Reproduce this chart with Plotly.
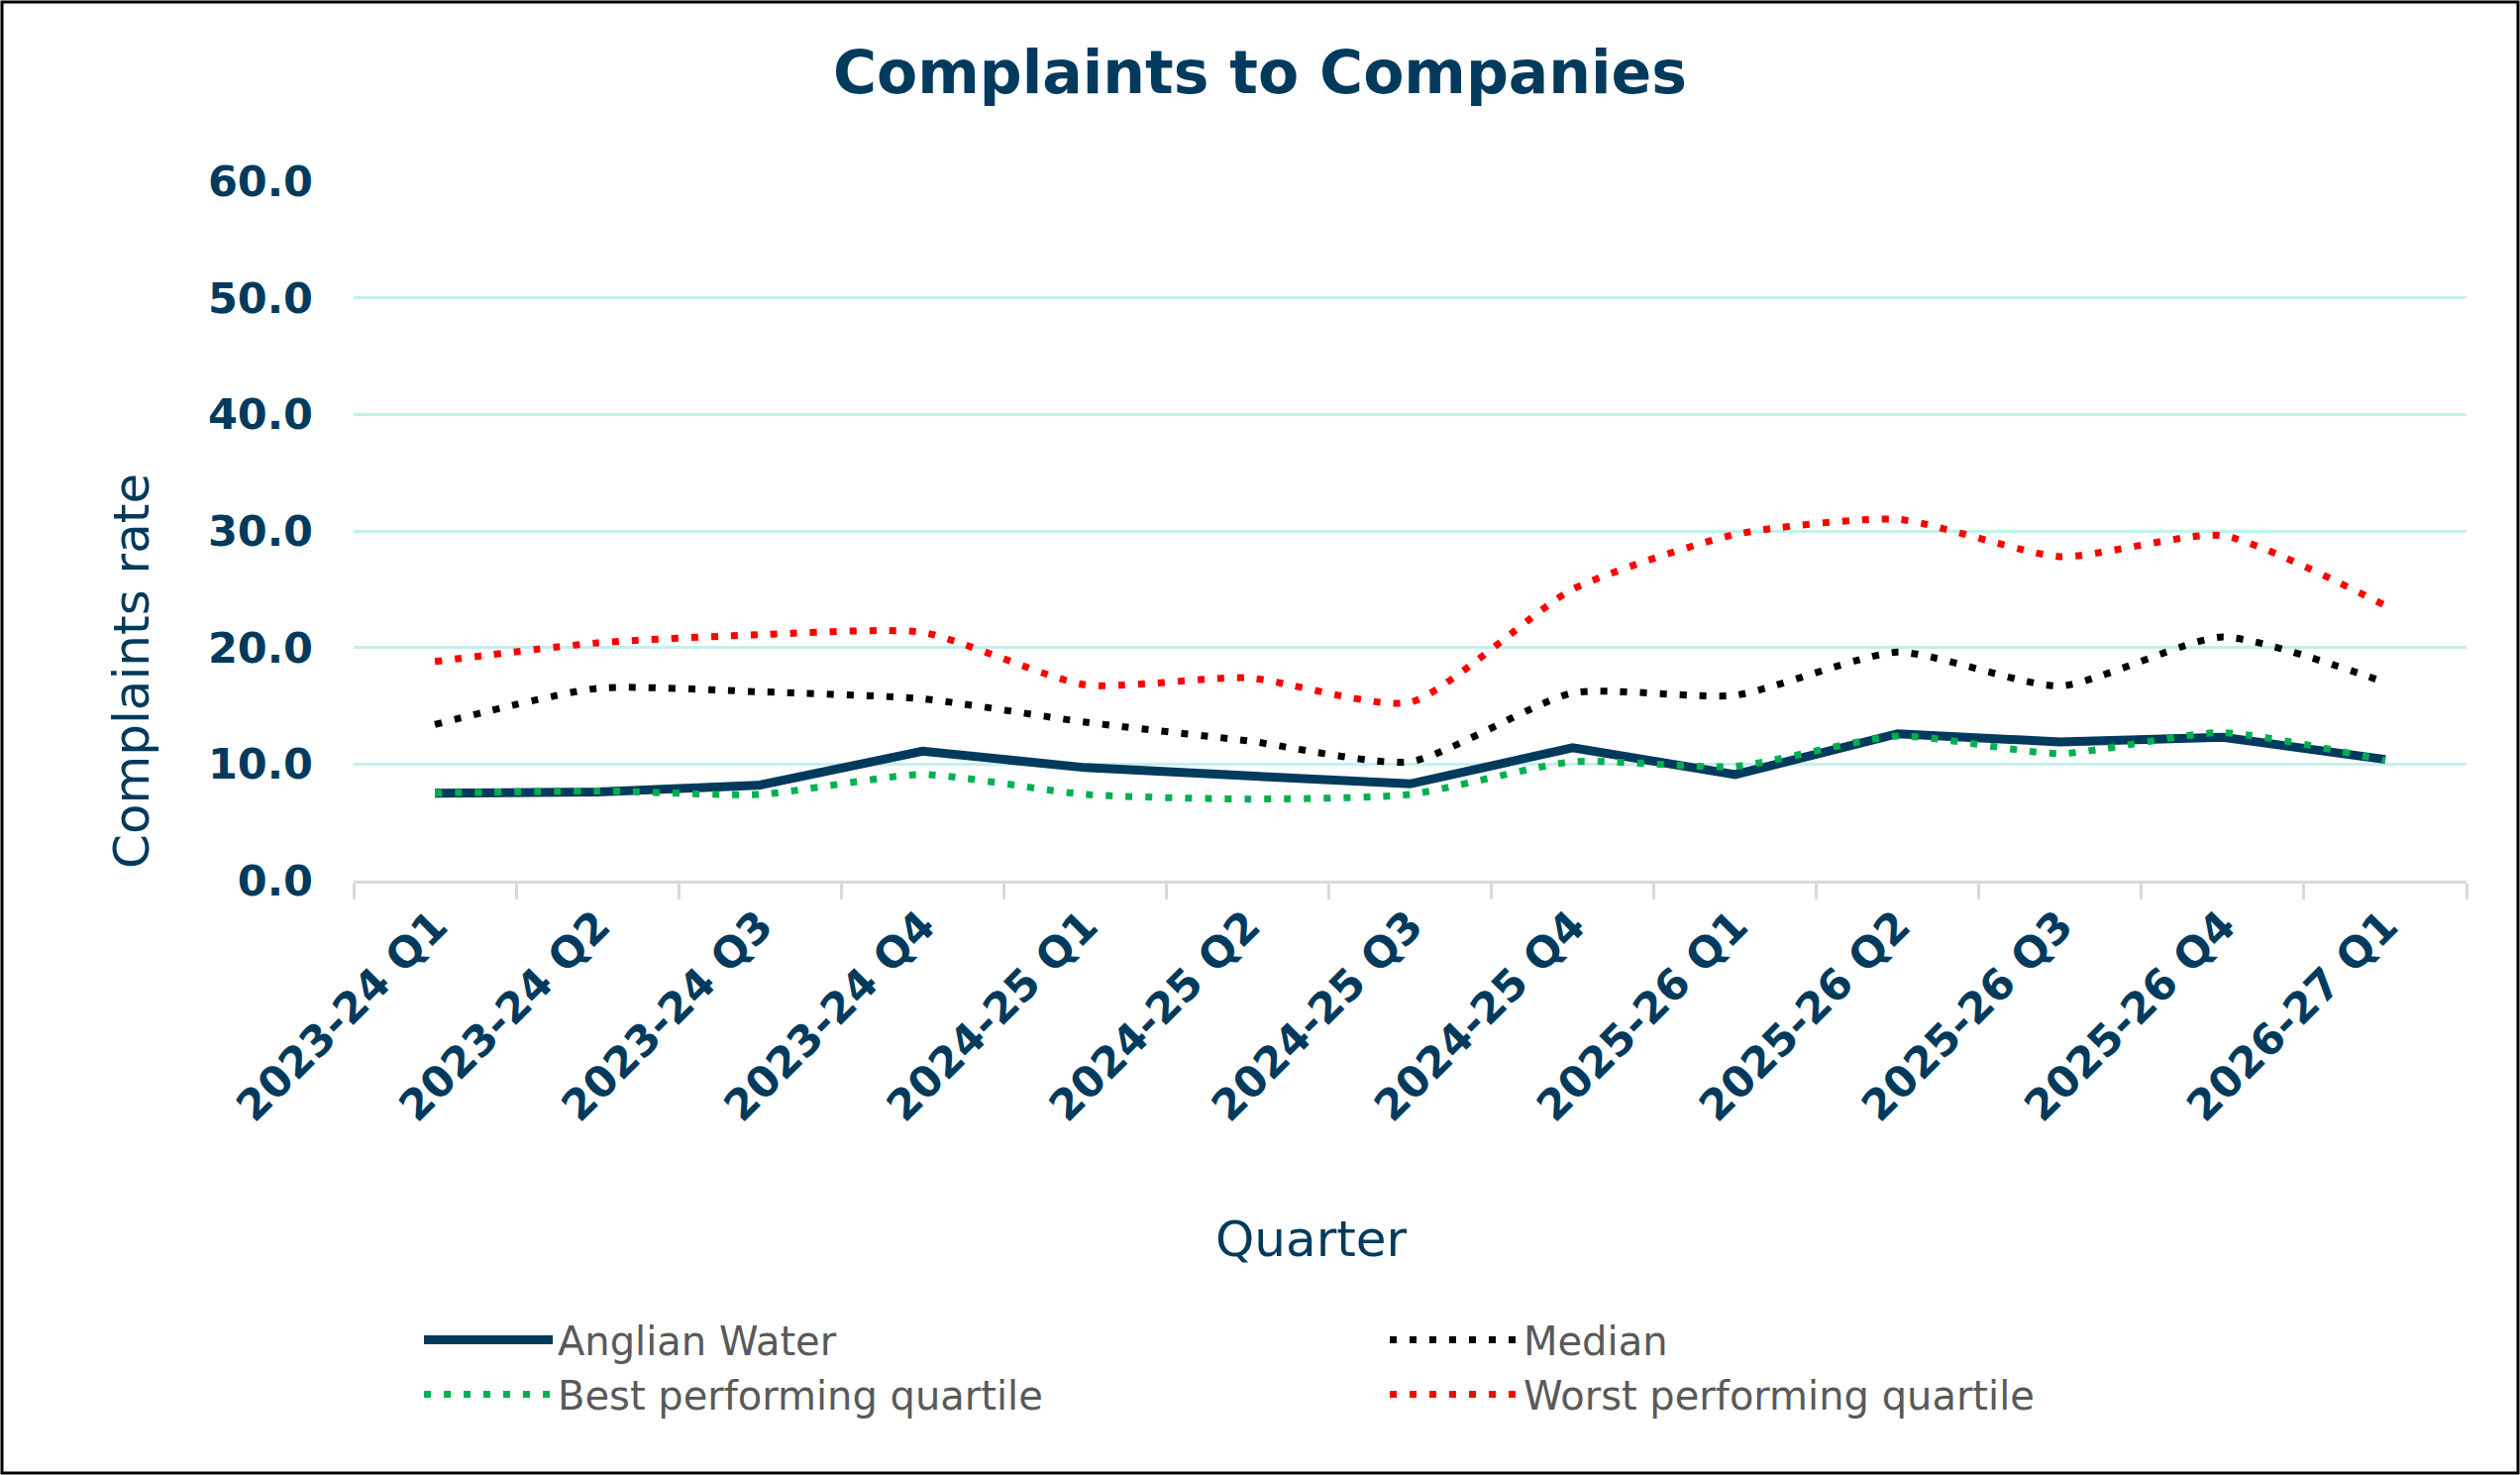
import plotly.graph_objects as go

# chart data
quarters = ["2023-24 Q1", "2023-24 Q2", "2023-24 Q3", "2023-24 Q4",
            "2024-25 Q1", "2024-25 Q2", "2024-25 Q3", "2024-25 Q4",
            "2025-26 Q1", "2025-26 Q2", "2025-26 Q3", "2025-26 Q4",
            "2026-27 Q1"]
anglian = [7.5, 7.6, 8.2, 11.1, 9.7, 9.0, 8.3, 11.4, 9.1, 12.6, 11.9, 12.3, 10.4]
median = [13.4, 16.5, 16.2, 15.6, 13.6, 12.0, 10.2, 16.1, 15.9, 19.6, 16.7, 20.9, 17.0]
best_quartile = [7.5, 7.7, 7.4, 9.1, 7.4, 7.0, 7.4, 10.2, 9.8, 12.4, 10.9, 12.7, 10.3]
worst_quartile = [18.8, 20.4, 21.1, 21.3, 16.8, 17.4, 15.3, 25.0, 29.7, 31.0, 27.8, 29.6, 23.6]

NAVY = "#003A5D"
FONT = "DejaVu Sans"
W, H = 2544, 1489
ML, MR, MT, MB = 357, 54, 183, 600
pw, ph = W - ML - MR, H - MT - MB


def px_x(p):
    # pixel column -> paper x
    return (p - ML) / pw


def px_y(p):
    # pixel row -> paper y
    return (H - MB - p) / ph


fig = go.Figure()

fig.add_trace(go.Scatter(x=quarters, y=anglian, name="Anglian Water", mode="lines",
                         line=dict(color=NAVY, width=9)))
fig.add_trace(go.Scatter(x=quarters, y=median, name="Median", mode="lines",
                         line=dict(color="#000000", width=7, dash="7px,13px",
                                   shape="spline", smoothing=0.6)))
fig.add_trace(go.Scatter(x=quarters, y=best_quartile, name="Best performing quartile", mode="lines",
                         line=dict(color="#00B050", width=7, dash="7px,13px",
                                   shape="spline", smoothing=0.6)))
fig.add_trace(go.Scatter(x=quarters, y=worst_quartile, name="Worst performing quartile", mode="lines",
                         line=dict(color="#FF0000", width=7, dash="7px,13px",
                                   shape="spline", smoothing=0.6)))

fig.update_xaxes(
    range=[-0.5, len(quarters) - 0.5],
    tickangle=-45,
    tickfont=dict(size=43, color=NAVY, family=FONT, weight="bold"),
    ticklabelstandoff=0,
    tickson="boundaries", ticks="outside", ticklen=16, tickwidth=3, tickcolor="#D9D9D9",
    showline=True, linecolor="#D9D9D9", linewidth=3,
    showgrid=False, zeroline=False,
)
fig.update_yaxes(
    range=[0, 60], dtick=10, tickformat=".1f",
    tickfont=dict(size=43, color=NAVY, family=FONT, weight="bold"),
    ticklabelstandoff=40,
    showgrid=True, gridcolor="#C2EFF0", gridwidth=2.5,
    zeroline=False, showline=False,
)

# axis titles sit off-centre in the original, so place them as annotations
fig.add_annotation(text="Complaints rate", xref="paper", yref="paper",
                   x=px_x(133), y=px_y(678), xanchor="center", yanchor="middle",
                   textangle=-90, showarrow=False,
                   font=dict(size=50, color=NAVY, family=FONT))
fig.add_annotation(text="Quarter", xref="paper", yref="paper",
                   x=px_x(1324), y=px_y(1251), xanchor="center", yanchor="middle",
                   showarrow=False,
                   font=dict(size=50, color=NAVY, family=FONT))

# outer border round the whole picture
fig.add_shape(type="rect", xref="paper", yref="paper",
              x0=px_x(2), x1=px_x(W - 2), y0=px_y(H - 2), y1=px_y(2),
              line=dict(color="#000000", width=3), layer="above")

fig.update_layout(
    width=W, height=H,
    margin=dict(l=ML, r=MR, t=MT, b=MB, autoexpand=False),
    paper_bgcolor="white", plot_bgcolor="white",
    title=dict(text="Complaints to Companies", x=0.5, xanchor="center",
               y=1 - 73 / H, yanchor="middle",
               font=dict(size=60, color=NAVY, family=FONT, weight="bold")),
    legend=dict(orientation="h", x=px_x(423), xanchor="left",
                y=px_y(1320), yanchor="top", entrywidth=830, itemwidth=130,
                font=dict(size=40, color="#595959", family=FONT)),
    showlegend=True,
)

fig.write_html("out.html", config={"displayModeBar": False},
               post_script="document.body.style.margin='0';")
